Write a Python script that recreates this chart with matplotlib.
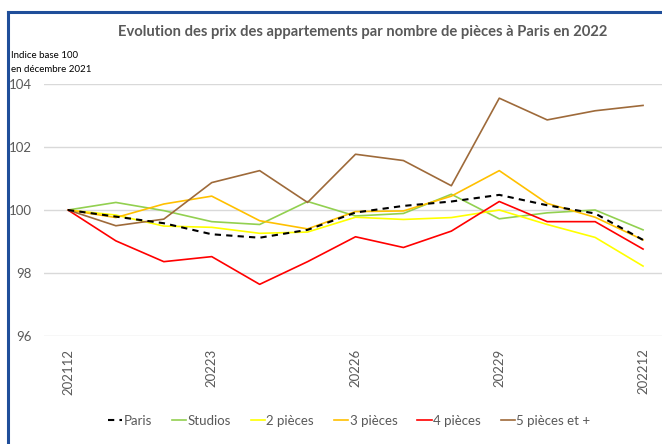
import matplotlib
matplotlib.use("Agg")
import matplotlib.pyplot as plt
from matplotlib.lines import Line2D

plt.rcParams['font.family'] = ['Lato', 'DejaVu Sans']

# data (index base 100 = Dec 2021)
months = list(range(13))
tick_pos = [0, 3, 6, 9, 12]
tick_labels = ['202112', '20223', '20226', '20229', '202212']

paris = [100, 99.79, 99.58, 99.23, 99.12, 99.37, 99.92, 100.13, 100.27, 100.48, 100.15, 99.89, 99.05]
studios = [100, 100.24, 99.98, 99.63, 99.54, 100.27, 99.81, 99.89, 100.5, 99.72, 99.91, 100.0, 99.37]
p2 = [100, 99.84, 99.49, 99.45, 99.26, 99.3, 99.77, 99.7, 99.76, 100.0, 99.54, 99.13, 98.22]
p3 = [100, 99.76, 100.19, 100.44, 99.66, 99.4, 99.95, 99.97, 100.44, 101.25, 100.21, 99.77, 99.05]
p4 = [100, 99.02, 98.36, 98.52, 97.64, 98.36, 99.15, 98.81, 99.33, 100.27, 99.63, 99.63, 98.76]
p5 = [100, 99.5, 99.71, 100.87, 101.25, 100.24, 101.77, 101.57, 100.77, 103.55, 102.86, 103.15, 103.32]

grey = '#595959'

fig = plt.figure(figsize=(6.62, 4.44), dpi=100)
ax = fig.add_axes([44 / 662, 108 / 444, 623 / 662, 252 / 444])

ax.plot(months, studios, color='#92D050', lw=1.2, label='Studios')
ax.plot(months, p2, color='#FFFF00', lw=1.2, label='2 pièces')
ax.plot(months, p3, color='#FFC000', lw=1.2, label='3 pièces')
ax.plot(months, p4, color='#FF0000', lw=1.2, label='4 pièces')
ax.plot(months, p5, color='#9E6A3A', lw=1.2, label='5 pièces et +')
ax.plot(months, paris, color='black', lw=1.5, ls=(0, (3, 2.5)), label='Paris', zorder=5)

ax.set_xlim(-0.5, 12.5)
ax.set_ylim(96, 104)
ax.set_yticks([96, 98, 100, 102, 104])
ax.grid(axis='y', color='#D9D9D9', lw=1)
ax.set_axisbelow(True)
for s in ax.spines.values():
    s.set_visible(False)
ax.tick_params(axis='y', length=0, pad=9, labelsize=9.5, labelcolor=grey)
ax.set_xticks(tick_pos)
ax.set_xticklabels(tick_labels, rotation=90)
ax.tick_params(axis='x', length=0, pad=9, labelsize=9.5, labelcolor=grey)

# legend in Excel order
handles, labels = ax.get_legend_handles_labels()
order = [5, 0, 1, 2, 3, 4]
fig.legend([handles[i] for i in order], [labels[i] for i in order],
           loc='center', bbox_to_anchor=(349 / 662, 1 - 421 / 444), ncol=6,
           frameon=False, fontsize=9.5, labelcolor=grey, handlelength=1.1,
           handletextpad=0.1, columnspacing=1.5)

fig.text(363 / 662, 1 - 32 / 444,
         'Evolution des prix des appartements par nombre de pièces à Paris en 2022',
         ha='center', va='center', fontsize=10.6, fontweight='bold', color=grey)
fig.text(11 / 662, 1 - 56 / 444, 'Indice base 100', ha='left', va='center', fontsize=7)
fig.text(11 / 662, 1 - 69 / 444, 'en décembre 2021', ha='left', va='center', fontsize=7)

# blue frame (left and top)
fig.add_artist(Line2D([8 / 662, 8 / 662], [0, 1 - 12 / 444], color='#1F4E9A', lw=2.2))
fig.add_artist(Line2D([8 / 662, 1], [1 - 12 / 444, 1 - 12 / 444], color='#1F4E9A', lw=2.2))

fig.savefig('out.png', dpi=100)
